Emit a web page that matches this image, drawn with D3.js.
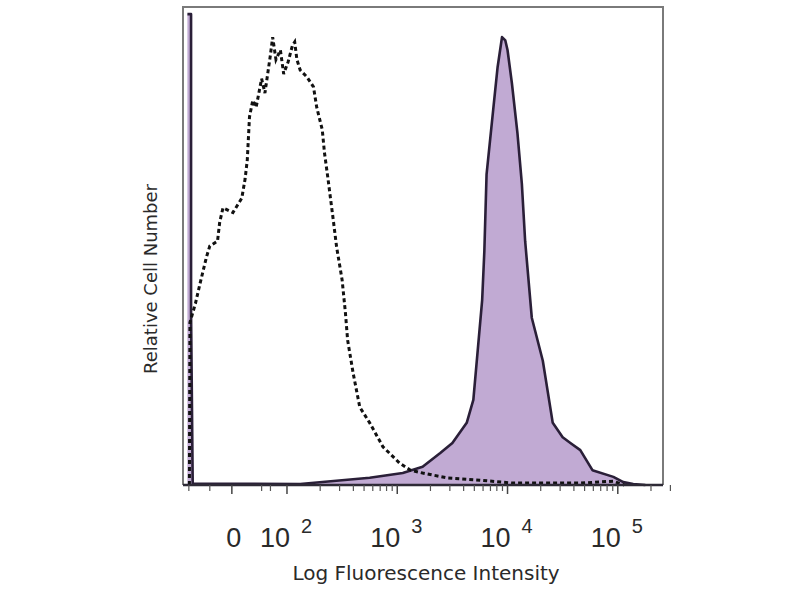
<!DOCTYPE html>
<html>
<head>
<meta charset="utf-8">
<script src="https://cdn.jsdelivr.net/npm/d3@7"></script>
<style>
  body { margin: 0; background: #fff; }
  text { font-family: "Liberation Sans", Arial, sans-serif; fill: #2a2a2a; }
  .title { font-family: "DejaVu Sans", sans-serif; }
</style>
</head>
<body>
<div id="chart"></div>
<script>
// x values are display positions in decades (logicle style), y is relative count
const stainedX = [1.097, 1.13, 1.13, 1.145, 2.12, 2.75, 3.05, 3.23, 3.39, 3.50, 3.63, 3.69, 3.73, 3.77, 3.79, 3.81, 3.87, 3.91, 3.95, 3.98, 4.00, 4.04, 4.09, 4.13, 4.16, 4.22, 4.32, 4.41, 4.50, 4.57, 4.66, 4.77, 4.96, 5.05, 5.14, 5.25];
const stainedY = [98.5, 98.5, 36, 0.3, 0.2, 1.5, 2.5, 3.8, 6.7, 8.8, 13, 17.8, 28.2, 38.7, 49, 65, 78.5, 87.4, 93.7, 93, 91, 84, 73.6, 63, 51, 35, 26, 13, 10, 8.8, 7.3, 3.1, 1.7, 0.6, 0.2, 0];

const controlX = [1.115, 1.12, 1.17, 1.21, 1.27, 1.30, 1.37, 1.39, 1.42, 1.51, 1.59, 1.62, 1.64, 1.66, 1.69, 1.72, 1.77, 1.80, 1.85, 1.87, 1.90, 1.94, 1.97, 2.01, 2.05, 2.07, 2.09, 2.12, 2.18, 2.24, 2.27, 2.32, 2.34, 2.37, 2.42, 2.45, 2.50, 2.53, 2.55, 2.60, 2.66, 2.75, 2.87, 3.02, 3.12, 3.23, 3.45, 3.75, 4.05, 4.66, 4.96, 5.06];
const controlY = [0, 34, 38, 42, 47.7, 50, 51, 55, 58, 57, 60, 64, 68, 77, 80.5, 79, 85, 82, 90, 93.7, 89, 91, 86, 88.5, 92, 92.7, 89, 86.8, 85.4, 83.3, 79, 74.3, 69.5, 64.4, 55.4, 49.8, 42.9, 36, 30.3, 23.4, 16.3, 13, 8, 4.6, 3.1, 2.5, 1.5, 1.0, 0.4, 0.4, 0.8, 0];

const majorTicks = [1.5, 2, 3, 4, 5];
const majorLabels = ["0", "10", "10", "10", "10"];
const majorSup = ["", "2", "3", "4", "5"];
const lowTicks = [1.11, 1.30, 1.77, 1.85];

const svg = d3.select("#chart").append("svg")
  .attr("width", 800)
  .attr("height", 600);

const x = d3.scaleLinear().domain([1.057, 5.41]).range([183, 663]);
const y = d3.scaleLinear().domain([0, 100]).range([485, 7]);

// minor ticks 2..9 per decade
const minorTicks = lowTicks.slice();
[2, 3, 4].forEach(d => {
  for (let k = 2; k <= 9; k++) minorTicks.push(d + Math.log10(k));
});
for (let k = 2; k <= 3; k++) minorTicks.push(5 + Math.log10(k));

const stained = stainedX.map((v, i) => [v, stainedY[i]]);
const control = controlX.map((v, i) => [v, controlY[i]]);

// stained histogram
svg.append("path")
  .datum(stained)
  .attr("fill", "#c1aad3")
  .attr("d", d3.area().x(d => x(d[0])).y0(y(0)).y1(d => y(d[1])));

svg.append("path")
  .datum(stained)
  .attr("fill", "none")
  .attr("stroke", "#2a1f38")
  .attr("stroke-width", 2.6)
  .attr("stroke-linejoin", "round")
  .attr("d", d3.line().x(d => x(d[0])).y(d => y(d[1])));

// control histogram (dashed)
svg.append("path")
  .datum(control)
  .attr("fill", "none")
  .attr("stroke", "#111")
  .attr("stroke-width", 3)
  .attr("stroke-dasharray", "4,3")
  .attr("d", d3.line().x(d => x(d[0])).y(d => y(d[1])));

// frame
svg.append("path")
  .attr("d", `M${x.range()[0]},${y(0)}V${y.range()[1]}H${x.range()[1]}V${y(0)}`)
  .attr("fill", "none")
  .attr("stroke", "#7a7a7a")
  .attr("stroke-width", 2);

// x axis
const axis = svg.append("g");
axis.append("line")
  .attr("x1", x.range()[0]).attr("x2", x.range()[1])
  .attr("y1", y(0)).attr("y2", y(0))
  .attr("stroke", "#2e2a36")
  .attr("stroke-width", 2.5);

axis.selectAll(".minor")
  .data(minorTicks)
  .enter().append("line")
  .attr("x1", d => x(d)).attr("x2", d => x(d))
  .attr("y1", y(0)).attr("y2", y(0) + 6)
  .attr("stroke", "#555")
  .attr("stroke-width", 1.2);

axis.selectAll(".major")
  .data(majorTicks)
  .enter().append("line")
  .attr("x1", d => x(d)).attr("x2", d => x(d))
  .attr("y1", y(0)).attr("y2", y(0) + 9)
  .attr("stroke", "#444")
  .attr("stroke-width", 1.5);

const lab = axis.selectAll(".lab")
  .data(majorTicks)
  .enter().append("g")
  .attr("transform", d => `translate(${x(d)},547)`);

lab.append("text")
  .attr("text-anchor", (d, i) => i === 0 ? "middle" : "end")
  .attr("x", (d, i) => i === 0 ? 2 : 3)
  .style("font-size", "27px")
  .text((d, i) => majorLabels[i]);

lab.append("text")
  .attr("x", 14)
  .attr("y", -14)
  .style("font-size", "20px")
  .text((d, i) => majorSup[i]);

svg.append("text")
  .attr("class", "title")
  .attr("x", 426)
  .attr("y", 580)
  .attr("text-anchor", "middle")
  .style("font-size", "20px")
  .text("Log Fluorescence Intensity");

svg.append("text")
  .attr("class", "title")
  .attr("transform", "translate(157,279) rotate(-90)")
  .attr("text-anchor", "middle")
  .style("font-size", "18px")
  .text("Relative Cell Number");
</script>
</body>
</html>
